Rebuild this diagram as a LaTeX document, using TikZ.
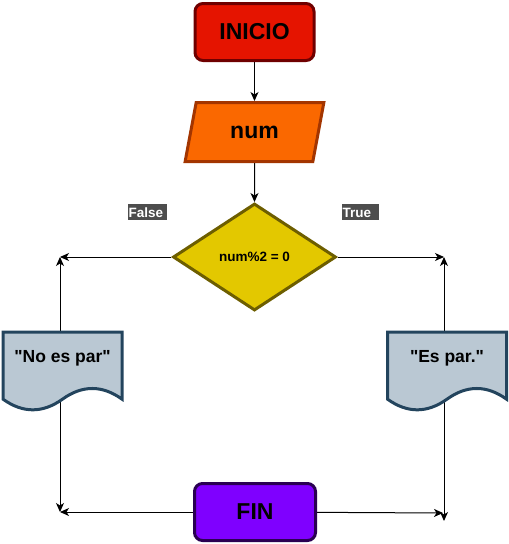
\documentclass[tikz,border=0pt]{standalone}
\usepackage{fontspec}
\setmainfont{Liberation Sans}
\usepackage{tikz}
\usetikzlibrary{shapes.geometric}
\usetikzlibrary{arrows.meta}

\definecolor{iniFill}{HTML}{E51400}
\definecolor{iniLine}{HTML}{6F0000}
\definecolor{numFill}{HTML}{FA6800}
\definecolor{numLine}{HTML}{A33500}
\definecolor{decFill}{HTML}{E3C800}
\definecolor{decLine}{HTML}{6D5E00}
\definecolor{docFill}{HTML}{BAC8D3}
\definecolor{docLine}{HTML}{23445D}
\definecolor{finFill}{HTML}{7F00FF}
\definecolor{finLine}{HTML}{2A0052}
\definecolor{tagFill}{HTML}{4D4D4D}

\pgfdeclarelayer{background}
\pgfsetlayers{background,main}

% straight double quote, not turned into a curly one
\newcommand{\dq}{\XeTeXglyph\XeTeXcharglyph"22\relax}

\begin{document}
\begin{tikzpicture}[x=1pt, y=-1pt,
    arr/.style={line width=1pt, -{Stealth[length=9pt, width=8pt, inset=2.5pt]}},
    term/.style={rectangle, rounded corners=8pt, line width=3pt, minimum width=119pt,
        minimum height=57pt, inner sep=0pt, font=\bfseries\fontsize{23}{26}\selectfont},
    inbox/.style={trapezium, trapezium left angle=70, trapezium right angle=110,
        trapezium stretches=true, minimum width=139pt, minimum height=59pt, inner sep=0pt,
        line width=3pt, fill=numFill, draw=numLine, font=\bfseries\fontsize{23}{26}\selectfont},
    decbox/.style={diamond, minimum width=163pt, minimum height=107pt, inner sep=0pt,
        line width=3pt, fill=decFill, draw=decLine, font=\bfseries\fontsize{13.5}{16}\selectfont},
    doctext/.style={inner sep=0pt, font=\bfseries\fontsize{17.5}{20}\selectfont},
    tag/.style={fill=tagFill, text=white, align=left, inner xsep=0.5pt, inner ysep=3pt,
        text height=10pt, text depth=0pt, anchor=west, font=\bfseries\fontsize{13.5}{16}\selectfont},
    docshape/.pic={
        \draw[line width=3pt, fill=docFill, draw=docLine] (0,0) -- (119,0) -- (119,67.15)
            .. controls (99.17,52.93) and (79.33,52.93) .. (59.5,67.15)
            .. controls (39.67,81.37) and (19.83,81.37) .. (0,67.15) -- cycle;
    }]
    \useasboundingbox (0,0) rectangle (509,544);

    % flow boxes
    \node[term, fill=iniFill, draw=iniLine] (ini) at (254.5,32) {INICIO};
    \node[inbox] (num) at (254.5,132) {num};
    \node[decbox] (dec) at (254.5,257) {num\%2 = 0};

    \pic at (3,332) {docshape};
    \node[doctext] (docL) at (62.5,358) {\dq No es par\dq};
    \pic at (387.5,332) {docshape};
    \node[doctext] (docR) at (447,358) {\dq Es par.\dq};

    \node[term, minimum width=121pt, fill=finFill, draw=finLine] (fin) at (255,512) {FIN};

    \node[tag, text width=38pt] (lblF) at (128,212) {False};
    \node[tag, text width=36pt] (lblT) at (342,212) {True};

    % corners
    \coordinate (cTL) at (60,257);
    \coordinate (cTR) at (444,257);
    \coordinate (cBL) at (60,512);
    \coordinate (cBR) at (443,513);
    \coordinate (cBRd) at (444,521);

    \begin{pgfonlayer}{background}
        \draw[arr] (ini) -- (num);
        \draw[arr] (num) -- (dec);
        \draw[arr] (dec) -- (cTL);
        \draw[arr] (dec) -- (cTR);
        \draw[arr] (docL -| cTL) -- (cTL);
        \draw[arr] (docR -| cTR) -- (cTR);
        \draw[arr] (docL -| cBL) -- (cBL);
        \draw[arr] (docR -| cBRd) -- (cBRd);
        \draw[arr] (fin) -- (cBL);
        \draw[arr] (fin) -- (cBR);
    \end{pgfonlayer}
\end{tikzpicture}
\end{document}
